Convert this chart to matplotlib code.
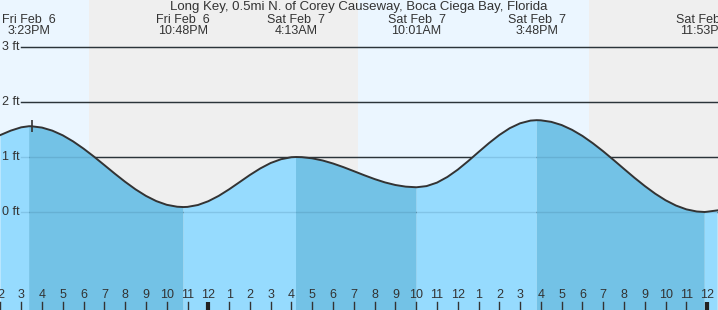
import matplotlib
matplotlib.use('Agg')
import matplotlib.pyplot as plt
import numpy as np

plt.rcParams['font.family'] = ['Liberation Sans', 'DejaVu Sans']

title = 'Long Key, 0.5mi N. of Corey Causeway, Boca Ciega Bay, Florida'

# hours counted from Fri Feb 6 00:00
event_hours = [15.38, 22.80, 28.22, 34.02, 39.80, 47.88]
event_heights = [1.56, 0.09, 1.00, 0.45, 1.67, 0.00]
event_days = ['Fri Feb  6', 'Fri Feb  6', 'Sat Feb  7', 'Sat Feb  7', 'Sat Feb  7', 'Sat Feb  7']
event_times = ['3:23PM', '10:48PM', '4:13AM', '10:01AM', '3:48PM', '11:53PM']

# tide curve, every half hour
curve_hours = [14.0, 14.5, 15.0, 15.38, 15.5, 16.0, 16.5, 17.0, 17.5, 18.0, 18.5, 19.0, 19.5,
               20.0, 20.5, 21.0, 21.5, 22.0, 22.5, 22.8, 23.0, 23.5, 24.0, 24.5, 25.0,
               25.5, 26.0, 26.5, 27.0, 27.5, 28.0, 28.22, 28.5, 29.0, 29.5, 30.0, 30.5,
               31.0, 31.5, 32.0, 32.5, 33.0, 33.5, 34.0, 34.02, 34.5, 35.0, 35.5, 36.0,
               36.5, 37.0, 37.5, 38.0, 38.5, 39.0, 39.5, 39.8, 40.0, 40.5, 41.0, 41.5,
               42.0, 42.5, 43.0, 43.5, 44.0, 44.5, 45.0, 45.5, 46.0, 46.5, 47.0, 47.5,
               47.88, 48.0, 48.5]
curve_ft = [1.40, 1.48, 1.54, 1.56, 1.559, 1.535, 1.479, 1.394, 1.283, 1.152, 1.007, 0.853, 0.698,
            0.549, 0.412, 0.293, 0.198, 0.131, 0.096, 0.09, 0.093, 0.127, 0.196, 0.293, 0.412,
            0.542, 0.673, 0.792, 0.891, 0.960, 0.996, 1.00, 0.997, 0.976, 0.937, 0.882, 0.816,
            0.743, 0.669, 0.599, 0.538, 0.491, 0.461, 0.450, 0.45, 0.471, 0.534, 0.637, 0.770,
            0.925, 1.090, 1.252, 1.400, 1.524, 1.613, 1.662, 1.67, 1.667, 1.639, 1.581, 1.494,
            1.383, 1.250, 1.103, 0.945, 0.783, 0.623, 0.472, 0.333, 0.213, 0.117, 0.048, 0.009,
            0.00, 0.005, 0.03]

# daylight periods (sunrise/sunset)
day_spans = [(14.0, 18.28), (31.2, 42.33)]
night_spans = [(18.28, 31.2), (42.33, 48.6)]

tick_hours = list(range(14, 49))
tick_labels = [str(h % 12 if h % 12 else 12) for h in tick_hours]
grid_levels = [0, 1, 2, 3]
now_hour = 15.5

fig = plt.figure(figsize=(7.18, 3.10), dpi=100)
ax = fig.add_axes([0, 0, 1, 1])
x0, x1 = 13.98, 48.52
ax.set_xlim(x0, x1)
ax.set_ylim(-1.782, 3.855)
ax.axis('off')

for a, b in day_spans:
    ax.axvspan(a, b, color='#ebf6ff', zorder=0, lw=0)
for a, b in night_spans:
    ax.axvspan(a, b, color='#efefef', zorder=0, lw=0)

gx = 21 / 718
for lv in grid_levels:
    ax.axhline(lv, xmin=gx, xmax=1, color='#2b2b2b', lw=1, zorder=1)
    ax.axhline(lv, xmin=gx, xmax=1, color='#2b5f80', lw=1, alpha=0.18, zorder=4)
    ax.text(2 / 718, lv, '%d ft' % lv, transform=ax.get_yaxis_transform(),
            ha='left', va='center', fontsize=9, color='#333333', zorder=5)

hrs = np.array(curve_hours)
ft = np.array(curve_ft)
falling = np.zeros(len(hrs), dtype=bool)
for i in range(0, len(event_hours) - 1, 2):
    falling |= (hrs >= event_hours[i]) & (hrs <= event_hours[i + 1])
rising = ~falling
for i in range(1, len(event_hours) - 1, 2):
    rising |= (hrs >= event_hours[i]) & (hrs <= event_hours[i + 1])
rising |= hrs <= event_hours[0]
rising |= hrs >= event_hours[-1]

ax.fill_between(hrs, -2, ft, where=rising, color='#96dbfe', lw=0, zorder=2)
ax.fill_between(hrs, -2, ft, where=falling, color='#73c2e6', lw=0, zorder=3)
ax.plot(hrs, ft, color='#333333', lw=1.4, zorder=6)
ax.plot([now_hour], [1.56], marker='|', ms=9, mew=1.2, color='#333333', zorder=7)

# hour ticks along the bottom
tr = ax.get_xaxis_transform()
for h, lab in zip(tick_hours, tick_labels):
    if h % 24 == 0:
        ax.plot([h, h], [0, 8 / 310], transform=tr, color='#222222', lw=3, zorder=7,
                solid_capstyle='butt')
    else:
        ax.plot([h, h], [0, 8 / 310], transform=tr, color='#333333', lw=1, zorder=7)
    ax.text(h, 1 - 295 / 310, lab, transform=tr, ha='center', va='center',
            fontsize=9, color='#333333', zorder=7)

# high / low labels along the top
for h, d, t in zip(event_hours, event_days, event_times):
    ax.text(h, 1 - 20 / 310, d, transform=tr, ha='center', va='center',
            fontsize=9, color='#333333', zorder=7)
    ax.text(h, 1 - 31 / 310, t, transform=tr, ha='center', va='center',
            fontsize=9, color='#333333', zorder=7)

ax.text(0.5, 1 - 7 / 310, title, transform=ax.transAxes, ha='center', va='center',
        fontsize=9.5, color='#333333', zorder=7)

fig.savefig('out.png', dpi=100)
